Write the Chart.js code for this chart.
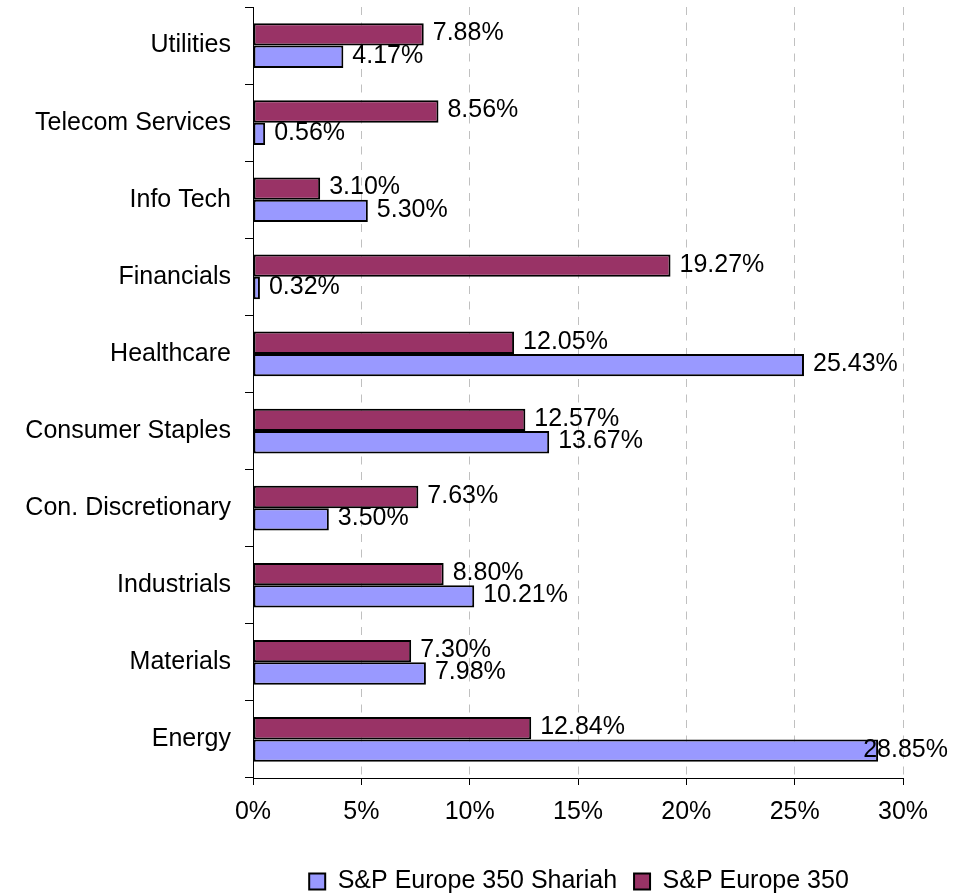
<!DOCTYPE html>
<html>
<head>
<meta charset="utf-8">
<script src="https://cdn.jsdelivr.net/npm/chart.js@4.4.0/dist/chart.umd.min.js"></script>
<style>
  html, body { margin: 0; padding: 0; background: #fff; }
</style>
</head>
<body>
<canvas id="myChart" width="969" height="894"></canvas>
<script>
// sectors listed top to bottom as in the picture
const sectors = ['Utilities', 'Telecom Services', 'Info Tech', 'Financials', 'Healthcare',
                 'Consumer Staples', 'Con. Discretionary', 'Industrials', 'Materials', 'Energy'];
const shariahWeights = [4.17, 0.56, 5.30, 0.32, 25.43, 13.67, 3.50, 10.21, 7.98, 28.85];
const europeWeights = [7.88, 8.56, 3.10, 19.27, 12.05, 12.57, 7.63, 8.80, 7.30, 12.84];
const xMin = 0, xMax = 30, xStep = 5;

const fontFamily = '"Liberation Sans", Arial, sans-serif';
Chart.defaults.font.family = fontFamily;
Chart.defaults.font.size = 25;
Chart.defaults.color = '#000';

// value text at the end of every bar
const valueLabels = {
    id: 'valueLabels',
    afterDatasetsDraw(chart) {
        const ctx = chart.ctx;
        ctx.save();
        ctx.font = '25px ' + fontFamily;
        ctx.fillStyle = '#000';
        ctx.textBaseline = 'middle';
        chart.data.datasets.forEach((ds, i) => {
            chart.getDatasetMeta(i).data.forEach((bar, j) => {
                var txt = ds.data[j].toFixed(2) + '%';
                var w = ctx.measureText(txt).width;
                var x = Math.min(bar.x + 9, chart.width - 21 - w);
                ctx.fillText(txt, x, bar.y - 1);
            });
        });
        ctx.restore();
    }
};

// legend sits under the plot area and close to the bottom edge
const legendShift = {
    id: 'legendShift',
    afterLayout(chart) {
        var lg = chart.legend;
        var dx = (chart.chartArea.left + chart.chartArea.right) / 2 + 1 - (lg.left + lg.right) / 2;
        lg.left += dx;
        lg.right += dx;
        lg.top += 10;
        lg.bottom += 10;
    }
};

var ctx = document.getElementById('myChart').getContext('2d');
var myChart = new Chart(ctx, {
    type: 'bar',
    data: {
        labels: sectors,
        datasets: [{
            label: 'S&P Europe 350',
            data: europeWeights,
            backgroundColor: '#993366',
            borderColor: '#000',
            borderWidth: 2,
            borderSkipped: false
        }, {
            label: 'S&P Europe 350 Shariah',
            data: shariahWeights,
            backgroundColor: '#9999FF',
            borderColor: '#000',
            borderWidth: 2,
            borderSkipped: false
        }]
    },
    options: {
        indexAxis: 'y',
        responsive: false,
        animation: false,
        categoryPercentage: 0.58,
        barPercentage: 1,
        layout: { padding: { top: 7, right: 66, left: 0, bottom: 0 } },
        plugins: {
            legend: {
                position: 'bottom',
                reverse: true,
                labels: { boxWidth: 16, boxHeight: 16, padding: 17, color: '#000' }
            },
            tooltip: { enabled: false }
        },
        scales: {
            x: {
                min: xMin,
                max: xMax,
                afterFit: scale => { scale.height = 64; },
                ticks: { stepSize: xStep, padding: 12, callback: v => v + '%' },
                grid: { color: '#c0c0c0', tickColor: '#000', tickLength: 7, lineWidth: 1 },
                border: { display: true, color: '#000', width: 1, dash: [8, 7.5] }
            },
            y: {
                afterFit: scale => {
                    scale.width = 253;
                    scale.paddingTop = 0;
                    scale.paddingBottom = 0;
                },
                ticks: { padding: 14 },
                grid: { drawOnChartArea: false, tickColor: '#000', tickLength: 8, offset: true },
                border: { display: true, color: '#000', width: 1 }
            }
        }
    },
    plugins: [valueLabels, legendShift]
});
</script>
</body>
</html>
